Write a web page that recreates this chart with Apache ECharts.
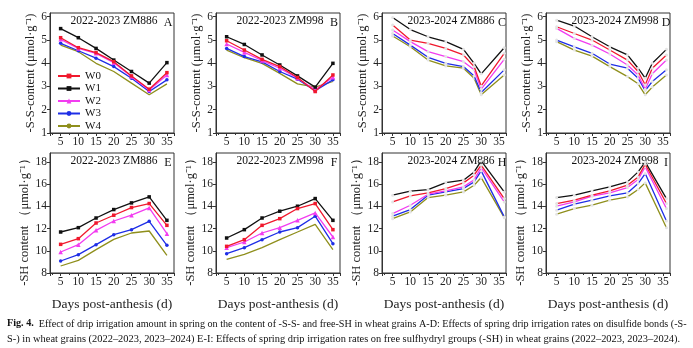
<!DOCTYPE html>
<html>
<head>
<meta charset="utf-8">
<script src="https://cdn.jsdelivr.net/npm/echarts@6/dist/echarts.min.js"></script>
<style>
html, body { margin: 0; padding: 0; background: #fff; }
#chart { width: 693px; height: 348px; }
</style>
</head>
<body>
<div id="chart"></div>
<script>
// Irrigation levels (series order in every value table below: W0, W1, W2, W3, W4)
const levels = ['W0', 'W1', 'W2', 'W3', 'W4'];

// Sampling days (days post-anthesis)
const days2223 = [5, 10, 15, 20, 25, 30, 35];
const daysC = [5, 10, 15, 20, 25, 28, 30, 36.5];
const daysD = [5, 10, 15, 20, 25, 28, 30, 32, 36];
const daysH = [5, 10, 15, 20, 25, 28, 30, 36.5];
const daysI = [5, 10, 15, 20, 25, 28, 30, 36];

// -S-S- content, µmol·g-1
const ssA = [
  [5.09, 4.66, 4.45, 4.06, 3.45, 2.88, 3.59],
  [5.48, 5.09, 4.63, 4.13, 3.64, 3.14, 4.02],
  [5.02, 4.63, 4.42, 4.02, 3.42, 2.85, 3.49],
  [4.85, 4.53, 4.21, 3.85, 3.35, 2.78, 3.28],
  [4.77, 4.49, 3.99, 3.64, 3.14, 2.64, 3.11]
];
const ssB = [
  [4.96, 4.56, 4.16, 3.85, 3.38, 2.78, 3.49],
  [5.13, 4.80, 4.35, 3.92, 3.45, 2.97, 3.99],
  [4.82, 4.46, 4.11, 3.78, 3.35, 2.85, 3.39],
  [4.63, 4.28, 4.05, 3.64, 3.31, 2.82, 3.28],
  [4.56, 4.23, 3.99, 3.56, 3.11, 2.97, 3.21]
];
const ssC = [
  [5.63, 4.99, 4.85, 4.63, 4.35, 3.85, 3.02, 4.42],
  [5.96, 5.44, 5.13, 4.92, 4.59, 3.99, 3.54, 4.66],
  [5.42, 4.92, 4.49, 4.28, 4.06, 3.71, 2.88, 4.16],
  [5.27, 4.77, 4.25, 3.99, 3.85, 3.45, 2.74, 3.71],
  [5.16, 4.70, 4.13, 3.88, 3.78, 3.35, 2.64, 3.49]
];
const ssD = [
  [5.56, 5.27, 4.99, 4.56, 4.13, 3.64, 3.07, 3.78, 4.35],
  [5.84, 5.59, 5.13, 4.70, 4.35, 3.78, 3.35, 3.99, 4.59],
  [5.49, 5.06, 4.77, 4.39, 3.92, 3.49, 2.88, 3.54, 4.13],
  [4.99, 4.70, 4.42, 3.96, 3.78, 3.35, 2.82, 3.21, 3.71],
  [4.92, 4.56, 4.30, 3.85, 3.42, 3.11, 2.64, 2.97, 3.49]
];

// Free -SH content, µmol·g-1
const shE = [
  [10.58, 11.09, 12.50, 13.20, 13.89, 14.25, 12.29],
  [11.69, 12.08, 12.95, 13.71, 14.31, 14.85, 12.74],
  [9.89, 10.55, 11.84, 12.68, 13.20, 13.86, 11.54],
  [9.08, 9.65, 10.55, 11.45, 11.90, 12.65, 10.49],
  [8.63, 9.14, 10.10, 11.03, 11.60, 11.78, 9.59]
];
const shF = [
  [10.40, 11.00, 12.29, 12.89, 13.80, 14.25, 11.90],
  [11.15, 11.90, 12.95, 13.56, 14.01, 14.70, 12.74],
  [10.28, 10.79, 11.60, 12.08, 12.74, 13.41, 11.24],
  [9.74, 10.28, 11.00, 11.69, 12.08, 13.11, 10.64],
  [9.23, 9.68, 10.28, 11.00, 11.69, 12.38, 10.10]
];
const shH = [
  [14.40, 14.94, 15.21, 15.60, 16.11, 16.80, 17.70, 14.70],
  [15.00, 15.36, 15.51, 16.14, 16.35, 17.10, 18.09, 15.30],
  [13.35, 14.10, 15.09, 15.39, 15.75, 16.40, 17.49, 14.40],
  [13.11, 13.71, 15.00, 15.30, 15.60, 16.20, 17.19, 13.05],
  [12.89, 13.50, 14.79, 15.00, 15.30, 15.90, 16.59, 12.98]
];
const shI = [
  [14.25, 14.55, 15.00, 15.39, 15.90, 16.65, 17.79, 14.25],
  [14.79, 15.00, 15.39, 15.75, 16.20, 17.10, 18.00, 14.70],
  [14.01, 14.40, 14.91, 15.21, 15.69, 16.41, 17.55, 13.80],
  [13.65, 14.19, 14.55, 14.94, 15.21, 16.05, 16.95, 12.68],
  [13.29, 13.80, 14.10, 14.55, 14.85, 15.51, 16.11, 12.08]
];

// Line styling per level
const lineColors = ['#f0192d', '#111111', '#f23cf0', '#1e2ee6', '#8f8f1c'];
const solidSymbols = ['rect', 'rect', 'triangle', 'circle', 'none'];

const FONT = 'Liberation Serif';
const ssName = '-S-S-content (μmol·g⁻¹)';
const shName = '-SH content （μmol·g⁻¹）';
const xName = 'Days post-anthesis (d)';

const panels = [
  { days: days2223, vals: ssA, title: '2022-2023 ZM886', tag: 'A', left: 50, top: 13, open: false, y: 'ss' },
  { days: days2223, vals: ssB, title: '2022-2023 ZM998', tag: 'B', left: 216, top: 13, open: false, y: 'ss' },
  { days: daysC, vals: ssC, title: '2023-2024 ZM886', tag: 'C', left: 382, top: 13, open: true, y: 'ss' },
  { days: daysD, vals: ssD, title: '2023-2024 ZM998', tag: 'D', left: 546, top: 13, open: true, y: 'ss' },
  { days: days2223, vals: shE, title: '2022-2023 ZM886', tag: 'E', left: 50, top: 153, open: false, y: 'sh' },
  { days: days2223, vals: shF, title: '2022-2023 ZM998', tag: 'F', left: 216, top: 153, open: false, y: 'sh' },
  { days: daysH, vals: shH, title: '2023-2024 ZM886', tag: 'H', left: 382, top: 153, open: true, y: 'sh' },
  { days: daysI, vals: shI, title: '2023-2024 ZM998', tag: 'I', left: 546, top: 153, open: true, y: 'sh' }
];
const PW = 124, PH = 120;

const grid = [], xAxis = [], yAxis = [], series = [], graphic = [];
const axisCol = '#222';

panels.forEach((p, i) => {
  grid.push({ left: p.left, top: p.top, width: PW, height: PH, show: true, borderColor: '#333', borderWidth: 1, containLabel: false });
  const bottomRow = p.y === 'sh';
  xAxis.push({
    type: 'value', gridIndex: i, min: 2, max: 37, splitNumber: 7,
    axisLine: { show: true, lineStyle: { color: '#333', width: 1 } },
    axisTick: { show: true, inside: false, length: 3, lineStyle: { color: '#333' } },
    minorTick: { show: true, splitNumber: 2, length: 2, lineStyle: { color: '#333' } },
    splitLine: { show: false },
    axisLabel: { show: true, margin: 3, fontFamily: FONT, fontSize: 11.5, color: axisCol, showMinLabel: false, showMaxLabel: false },
    name: bottomRow ? xName : '', nameLocation: 'middle', nameGap: 24,
    nameTextStyle: { fontFamily: FONT, fontSize: 13.5, color: axisCol }
  });
  yAxis.push({
    type: 'value', gridIndex: i,
    min: bottomRow ? 8 : 1, max: bottomRow ? 18.8 : 6.15, splitNumber: 5,
    axisLine: { show: true, lineStyle: { color: '#333', width: 1 } },
    axisTick: { show: true, inside: false, length: 3, lineStyle: { color: '#333' } },
    splitLine: { show: false },
    axisLabel: { show: true, margin: 3, fontFamily: FONT, fontSize: 11.5, color: axisCol, showMaxLabel: false }
  });
  levels.forEach((lv, k) => {
    series.push({
      type: 'line', name: lv, xAxisIndex: i, yAxisIndex: i,
      data: p.days.map((d, j) => [d, p.vals[k][j]]),
      symbol: p.open ? 'circle' : solidSymbols[k],
      symbolSize: p.open ? 3 : (k === 2 ? 4.5 : 3.5),
      showSymbol: true,
      lineStyle: { color: lineColors[k], width: 1.3 },
      itemStyle: { color: p.open ? '#e4e4e4' : lineColors[k], borderWidth: 0 },
      z: 2 + (5 - k),
      animation: false
    });
  });
  // vertical axis title, drawn beside each panel
  graphic.push({
    type: 'text', x: p.left - (bottomRow ? 25 : 19), y: p.top + (bottomRow ? 66 : 60),
    rotation: Math.PI / 2,
    style: { text: bottomRow ? shName : ssName, fontFamily: FONT, fontSize: 12.5, fill: axisCol, align: 'center', verticalAlign: 'middle' }
  });
  // panel caption and letter
  graphic.push({
    type: 'text', x: p.left + (p.open ? 69 : 64), y: p.top + 8,
    style: { text: p.title, fontFamily: FONT, fontSize: 11.5, fill: '#111', align: 'center', verticalAlign: 'middle' }
  });
  graphic.push({
    type: 'text', x: p.left + PW - (p.open ? 4 : 6), y: p.top + 10,
    style: { text: p.tag, fontFamily: FONT, fontSize: 12, fill: '#111', align: 'center', verticalAlign: 'middle' }
  });
});

// Figure caption
graphic.push({
  type: 'text', x: 7, y: 319, scaleX: 1.058,
  style: {
    text: '{b|Fig. 4.}  Effect of drip irrigation amount in spring on the content of -S-S- and free-SH in wheat grains A-D: Effects of spring drip irrigation rates on disulfide bonds (-S-',
    fontFamily: FONT, fontSize: 9.6, fill: '#111',
    rich: { b: { fontFamily: FONT, fontSize: 9.6, fontWeight: 'bold', fill: '#111' } }
  }
});
graphic.push({
  type: 'text', x: 7, y: 334, scaleX: 1.086,
  style: {
    text: 'S-) in wheat grains (2022–2023, 2023–2024) E-I: Effects of spring drip irrigation rates on free sulfhydryl groups (-SH) in wheat grains (2022–2023, 2023–2024).',
    fontFamily: FONT, fontSize: 9.6, fill: '#111'
  }
});

const chart = echarts.init(document.getElementById('chart'), null, { renderer: 'canvas' });
chart.setOption({
  backgroundColor: '#fff',
  animation: false,
  grid, xAxis, yAxis, series, graphic,
  legend: {
    data: levels, orient: 'vertical', left: 52, top: 65,
    itemWidth: 22, itemHeight: 6, itemGap: 0.5,
    textStyle: { fontFamily: FONT, fontSize: 11, color: '#111', lineHeight: 12 },
    selectedMode: false
  }
});
</script>
</body>
</html>
